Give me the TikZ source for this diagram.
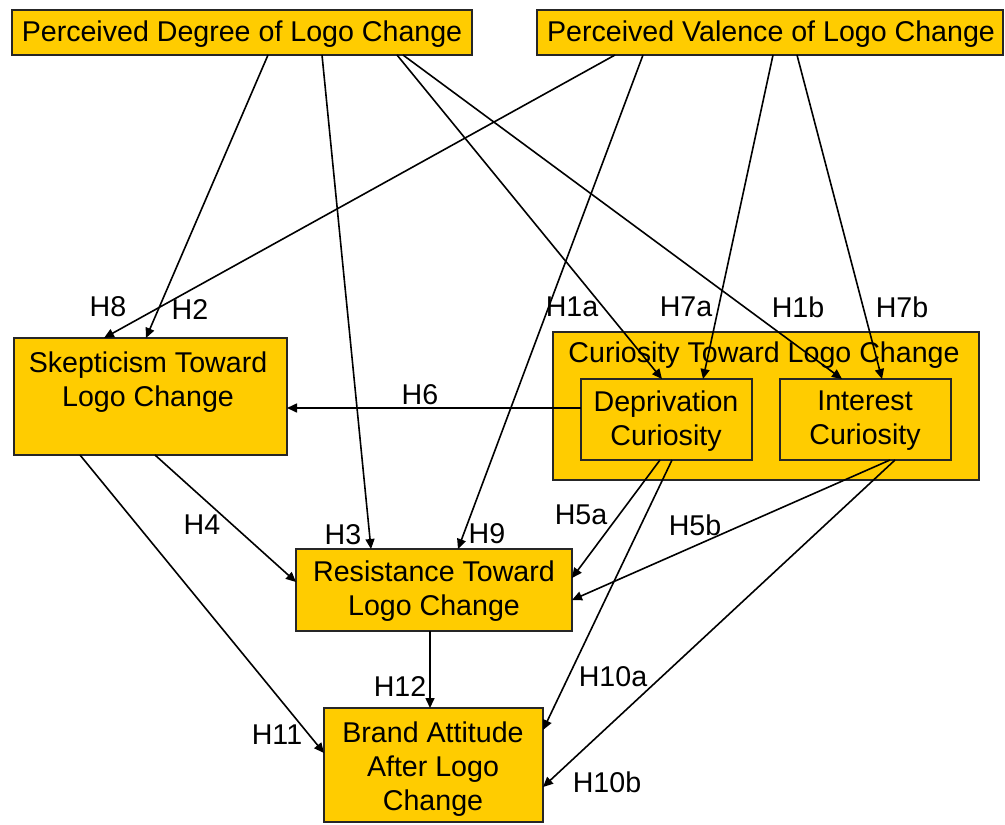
\documentclass[tikz,border=0pt]{standalone}
\usepackage{fontspec}
\setmainfont{Liberation Sans}
\usetikzlibrary{arrows.meta}
\definecolor{boxfill}{HTML}{FFCC00}
\begin{document}
\begin{tikzpicture}[x=0.5pt,y=-0.5pt,
  box/.style={draw=black!85, line width=1pt, fill=boxfill, inner sep=0pt, outer sep=0pt},
  txt/.style={font=\fontsize{14.3pt}{17pt}\selectfont, align=center, inner sep=0pt},
  lbl/.style={font=\fontsize{14.3pt}{17pt}\selectfont, inner sep=0pt},
  arr/.style={line width=0.8pt, -{Triangle[length=5pt,width=4.5pt]}}]
\useasboundingbox (0,0) rectangle (1005,824);
% boxes
\node[box, minimum width=230pt, minimum height=22.5pt] (B1) at (242,32.5) {};
\node[box, minimum width=233pt, minimum height=22.5pt] (B2) at (770,32.5) {};
\node[box, minimum width=136.5pt, minimum height=58.5pt] (S) at (150.5,396.5) {};
\node[box, minimum width=213pt, minimum height=74pt] (C) at (766,406) {};
\node[box, minimum width=85.5pt, minimum height=40.5pt] (D) at (666.5,419.5) {};
\node[box, minimum width=85.5pt, minimum height=40.5pt] (I) at (865.5,419.5) {};
\node[box, minimum width=138pt, minimum height=41pt] (R) at (434,590) {};
\node[box, minimum width=109.5pt, minimum height=57pt] (A) at (433.5,765) {};
% texts
\node[txt] (tB1) at (242,34) {Perceived Degree of Logo Change};
\node[txt] (tB2) at (771,34) {Perceived Valence of Logo Change};
\node[txt] (tS) at (148,382.5) {Skepticism Toward\\Logo Change};
\node[txt] (tC) at (764,355) {Curiosity Toward Logo Change};
\node[txt] (tD) at (666,421) {Deprivation\\Curiosity};
\node[txt] (tI) at (865,421) {Interest\\Curiosity};
\node[txt] (tR) at (434,591) {Resistance Toward\\Logo Change};
\node[txt] (tA) at (433,769) {Brand Attitude\\After Logo\\Change};
% arrows
\draw[arr] ([xshift=128pt]B1.south west) -- ([xshift=66pt]S.north west);   % H2
\draw[arr] ([xshift=39pt]B2.south west) -- ([xshift=45pt]S.north west);    % H8
\draw[arr] ([xshift=155pt]B1.south west) -- ([xshift=37.5pt]R.north west); % H3
\draw[arr] ([xshift=192.5pt]B1.south west) -- ([xshift=40.5pt]D.north west); % H1a
\draw[arr] ([xshift=195.5pt]B1.south west) -- ([xshift=31pt]I.north west); % H1b
\draw[arr] ([xshift=53pt]B2.south west) -- ([xshift=81pt]R.north west);    % H9
\draw[arr] ([xshift=118pt]B2.south west) -- ([xshift=61pt]D.north west);   % H7a
\draw[arr] ([xshift=130pt]B2.south west) -- ([xshift=51pt]I.north west);   % H7b
\draw[arr] ([yshift=-14.5pt]D.north west) -- ([yshift=-35pt]S.north east); % H6
\draw[arr] ([xshift=70.5pt]S.south west) -- ([yshift=-16.5pt]R.north west); % H4
\draw[arr] ([xshift=33pt]S.south west) -- ([yshift=-22.5pt]A.north west);  % H11
\draw[arr] ([xshift=39.5pt]D.south west) -- ([yshift=-14.5pt]R.north east); % H5a
\draw[arr] ([xshift=55pt]I.south west) -- ([yshift=-25.5pt]R.north east);  % H5b
\draw[arr] ([xshift=45.5pt]D.south west) -- ([yshift=-11pt]A.north east);  % H10a
\draw[arr] ([xshift=57.5pt]I.south west) -- ([yshift=-39.5pt]A.north east); % H10b
\draw[arr] ([xshift=67pt]R.south west) -- ([xshift=53pt]A.north west);     % H12
% labels
\node[lbl] (lH8) at (108,307) {H8};
\node[lbl] (lH2) at (190,310) {H2};
\node[lbl] (lH1a) at (572,307) {H1a};
\node[lbl] (lH7a) at (686,307) {H7a};
\node[lbl] (lH1b) at (798,307) {H1b};
\node[lbl] (lH7b) at (902,307) {H7b};
\node[lbl] (lH6) at (420,395) {H6};
\node[lbl] (lH4) at (202,525) {H4};
\node[lbl] (lH3) at (343,535) {H3};
\node[lbl] (lH9) at (487,534) {H9};
\node[lbl] (lH5a) at (581,515) {H5a};
\node[lbl] (lH5b) at (695,525) {H5b};
\node[lbl] (lH12) at (400,687) {H12};
\node[lbl] (lH11) at (277,735) {H11};
\node[lbl] (lH10a) at (613,677) {H10a};
\node[lbl] (lH10b) at (607,782) {H10b};
\end{tikzpicture}
\end{document}
